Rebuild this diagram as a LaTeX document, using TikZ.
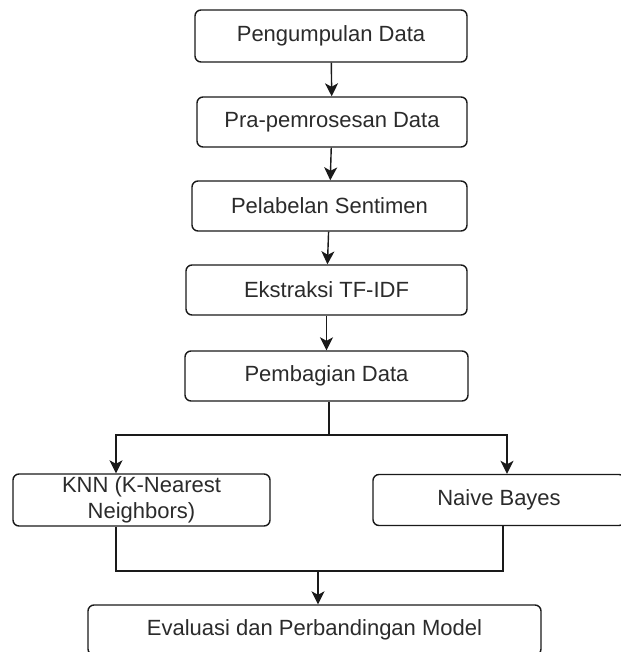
\documentclass[tikz,border=0pt]{standalone}
\usepackage{fontspec}
\setmainfont{Liberation Sans}
\usepackage{xcolor}
\usepackage{tikz}
\usetikzlibrary{arrows.meta,calc,positioning}
\definecolor{stepline}{HTML}{1A1A1A}
\definecolor{steptext}{HTML}{2B2B2B}
\newcommand{\stepfont}{\fontsize{22}{25.5}\selectfont}
\tikzset{
  stage/.style      = {draw=stepline, line width=1.4pt, rounded corners=6pt,
                       fill=white, inner sep=0pt, text=steptext,
                       font=\stepfont, minimum height=50pt, align=center},
  link/.style       = {-{Stealth[length=13pt,width=13pt,inset=3.5pt]},
                       stepline, line width=1.4pt},
  joint/.style      = {stepline, line width=1.4pt},
}

\begin{document}
\begin{tikzpicture}[x=1pt,y=-1pt]
      \useasboundingbox (0,0) rectangle (620,652);
      \node[stage, minimum width=272pt, minimum height=52pt] (collect) at (331,36) {Pengumpulan Data};
      \node[stage, minimum width=270pt] (prep) at (332,122) {Pra-pemrosesan Data};
      \node[stage, minimum width=275pt] (label) at (329.5,206) {Pelabelan Sentimen};
      \node[stage, minimum width=281pt] (tfidf) at (326.5,290) {Ekstraksi TF-IDF};
      \node[stage, minimum width=283pt] (split) at (326.5,376) {Pembagian Data};
      \node[stage, minimum width=257pt, minimum height=52pt] (knn) at (141.5,500)
        {KNN (K-Nearest\\Neighbors)};
      \node[stage, minimum width=252pt, minimum height=51pt] (bayes) at (499,500) {Naive Bayes};
      \node[stage, minimum width=453pt] (eval) at (314.5,630) {Evaluasi dan Perbandingan Model};
      % chain of stages
      \draw[link] (collect) -- (prep);
      \draw[link] (prep) -- (label);
      \draw[link] (label) -- (tfidf);
      \draw[link] (tfidf) -- (split);
      % branch into the two models
      \coordinate (fork) at (329,435);
      \draw[joint] (split.south -| fork) -- (fork);
      \draw[link] (fork) -| ([xshift=-25.5pt]knn.north);
      \draw[link] (fork) -| ([xshift=8pt]bayes.north);
      % join for the evaluation
      \coordinate (merge) at (318,571);
      \draw[joint] ([xshift=-25.5pt]knn.south) |- ([xshift=4pt]bayes.south |- merge)
        -- ([xshift=4pt]bayes.south);
      \draw[link] (merge) -- (merge |- eval.north);
    \end{tikzpicture}
\end{document}
